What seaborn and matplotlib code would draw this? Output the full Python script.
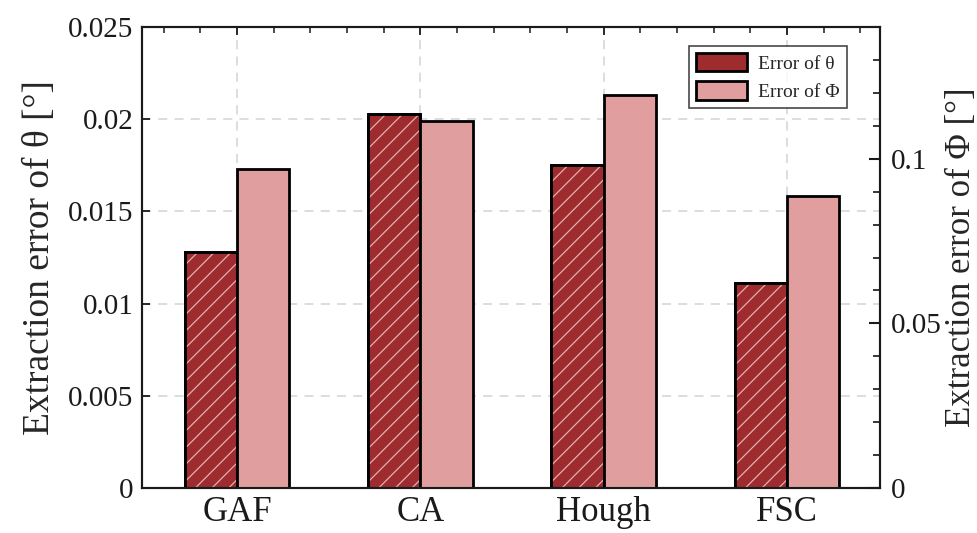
import numpy as np
import pandas as pd
import matplotlib
matplotlib.use("Agg")
import matplotlib.pyplot as plt
import seaborn as sns
from matplotlib.patches import Patch, Rectangle
from matplotlib.ticker import MultipleLocator

methods = ["GAF", "CA", "Hough", "FSC"]
theta_err = [0.0128, 0.0203, 0.0175, 0.0111]
phi_err = [0.0970, 0.1115, 0.1193, 0.0886]
series = ["Error of θ", "Error of Φ"]
colors = {"Error of θ": "#9E2B2E", "Error of Φ": "#E09E9E"}

sns.set_theme(style="white")
plt.rcParams["font.family"] = ["Liberation Serif", "DejaVu Serif"]
plt.rcParams["hatch.linewidth"] = 0.9

nan = [np.nan] * len(methods)
df_t = pd.DataFrame({"method": methods * 2, "value": theta_err + nan,
                     "series": [series[0]] * 4 + [series[1]] * 4})
df_p = pd.DataFrame({"method": methods * 2, "value": nan + phi_err,
                     "series": [series[0]] * 4 + [series[1]] * 4})

fig = plt.figure(figsize=(9.78, 5.33), dpi=100)
ax = fig.add_axes([0.1452, 0.0844, 0.7546, 0.8649])
ax2 = ax.twinx()

sns.barplot(data=df_t, x="method", y="value", hue="series", hue_order=series,
            palette=colors, width=0.572, gap=0, errorbar=None, ax=ax,
            edgecolor="black", linewidth=2, legend=False, saturation=1)
sns.barplot(data=df_p, x="method", y="value", hue="series", hue_order=series,
            palette=colors, width=0.572, gap=0, errorbar=None, ax=ax2,
            edgecolor="black", linewidth=2, legend=False, saturation=1)

# hatch overlay on theta bars (light hatch lines, black outline kept)
for p in list(ax.patches):
    h = p.get_height()
    if not np.isfinite(h) or h == 0:
        continue
    r = Rectangle((p.get_x(), p.get_y()), p.get_width(), h,
                  facecolor="none", edgecolor="#E3AFAF", hatch="//",
                  linewidth=0, zorder=p.get_zorder() + 0.1)
    ax.add_patch(r)
    r2 = Rectangle((p.get_x(), p.get_y()), p.get_width(), h,
                   facecolor="none", edgecolor="black", linewidth=2,
                   zorder=p.get_zorder() + 0.2)
    ax.add_patch(r2)

ax.set_xlim(-0.518, 3.507)
ax.set_ylim(0, 0.025)
ax2.set_ylim(0, 0.14)

ax.set_yticks([0, 0.005, 0.01, 0.015, 0.02, 0.025])
ax.set_yticklabels(["0", "0.005", "0.01", "0.015", "0.02", "0.025"])
ax2.set_yticks([0, 0.05, 0.1])
ax2.set_yticklabels(["0", "0.05", "0.1"])
ax2.yaxis.set_minor_locator(MultipleLocator(0.01))
ax.xaxis.set_minor_locator(MultipleLocator(0.2))

ax.set_axisbelow(True)
ax.grid(True, linestyle=(0, (5, 4)), color="#DADADA", linewidth=1.3)
ax.set_zorder(ax2.get_zorder() - 1)
ax.patch.set_visible(True)
ax2.patch.set_visible(False)

for a in (ax, ax2):
    for s in a.spines.values():
        s.set_linewidth(1.5)
        s.set_color("#1a1a1a")

ax.tick_params(axis="both", which="both", direction="in", labelsize=21,
               colors="#1a1a1a", top=True)
ax.tick_params(axis="y", which="major", length=6, width=1.3, pad=6)
ax.tick_params(axis="x", which="major", length=6, width=1.3, pad=6, labelsize=25)
ax.tick_params(axis="x", which="minor", length=4, width=1.1)
ax2.tick_params(axis="y", which="major", direction="in", length=8, width=1.5,
                labelsize=21, pad=8, colors="#1a1a1a")
ax2.tick_params(axis="y", which="minor", direction="in", length=5, width=1.3)

ax.set_xlabel("")
ax.set_ylabel("Extraction error of θ [°]", fontsize=27, labelpad=8)
ax2.set_ylabel("Extraction error of Φ [°]", fontsize=25, labelpad=2)

handles = [Patch(facecolor=colors[s], edgecolor="black", linewidth=2, label=s)
           for s in series]
leg = ax2.legend(handles=handles, loc="upper right", bbox_to_anchor=(0.968, 0.98),
                 fontsize=14, frameon=True, fancybox=False, edgecolor="#1a1a1a",
                 handlelength=2.6, handleheight=1.1, borderpad=0.35,
                 labelspacing=0.45, handletextpad=0.6)
leg.get_frame().set_linewidth(1.2)

fig.savefig("out.png", dpi=100)
